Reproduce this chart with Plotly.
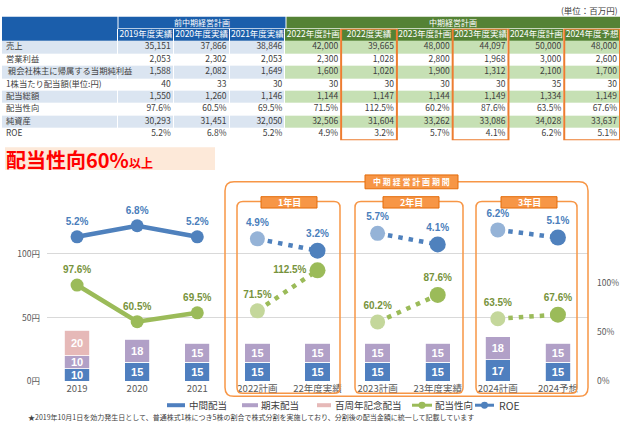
import plotly.graph_objects as go

W, H = 625, 428

# ---------------- table data ----------------
col_headers = ["2019年度実績", "2020年度実績", "2021年度実績", "2022年度計画", "2022度実績",
               "2023年度計画", "2023年度実績", "2024年度計画", "2024年度予想"]
row_labels = ["売上", "営業利益", " 親会社株主に帰属する当期純利益", "1株当たり配当額(単位:円)",
              "配当総額", "配当性向", "純資産", "ROE"]
sales = [35151, 37866, 38846, 42000, 39665, 48000, 44097, 50000, 48000]
op_income = [2053, 2302, 2053, 2300, 1028, 2800, 1968, 3000, 2600]
net_income = [1588, 2082, 1649, 1600, 1020, 1900, 1312, 2100, 1700]
dps = [40, 33, 30, 30, 30, 30, 30, 35, 30]
total_div = [1550, 1260, 1146, 1144, 1147, 1144, 1149, 1334, 1149]
net_assets = [30293, 31451, 32050, 32506, 31604, 33262, 33086, 34028, 33637]

# ---------------- chart data ----------------
categories = ["2019", "2020", "2021", "2022計画", "22年度実績", "2023計画", "23年度実績", "2024計画", "2024予想"]
interim = [10, 15, 15, 15, 15, 15, 15, 17, 15]
year_end = [10, 18, 15, 15, 15, 15, 15, 18, 15]
anniversary = [20, None, None, None, None, None, None, None, None]
payout = [97.6, 60.5, 69.5, 71.5, 112.5, 60.2, 87.6, 63.5, 67.6]
roe = [5.2, 6.8, 5.2, 4.9, 3.2, 5.7, 4.1, 6.2, 5.1]

plan_idx = [3, 5, 7]
actual_idx = [4, 6, 8]

JP = "Noto Sans CJK JP"
NUM = "Liberation Sans"
GRAY = "#595959"
BLUE = "#4f81bd"
BLUE_F = "#95b3d7"
GREEN = "#9bbb59"
GREEN_F = "#c4d79b"
ORANGE = "#f79646"


def px(x):
    return x / W


def py(y):
    return 1 - y / H


fig = go.Figure()

# ---------------- table (heatmap cells + text) ----------------
LABEL_W, COL_W = 116, 55.78
edges = [0, LABEL_W] + [LABEL_W + COL_W * (i + 1) for i in range(9)]

fmt = lambda v: f"{v:,}"
table_rows = [
    [fmt(v) for v in sales],
    [fmt(v) for v in op_income],
    [fmt(v) for v in net_income],
    [str(v) for v in dps],
    [fmt(v) for v in total_div],
    [f"{v:.1f}%" for v in payout],
    [fmt(v) for v in net_assets],
    [f"{v:.1f}%" for v in roe],
]

cell_colors = ["#ffffff", "#dbe5f1", "#c6e0b4", "#1b5eab", "#548235"]
cscale = []
for k, c in enumerate(cell_colors):
    cscale += [[k / 5, c], [(k + 1) / 5, c]]
z = [[3] * 4 + [4] * 6]
for r in range(len(row_labels)):
    z.append([1] * 4 + [2] * 6 if r % 2 == 0 else [0] * 10)

fig.add_trace(go.Heatmap(x=edges, y=list(range(9)), z=z, colorscale=cscale, zmin=-0.5, zmax=4.5,
                         showscale=False, xgap=1, ygap=0, hoverinfo="skip",
                         xaxis="x4", yaxis="y4"))

fig.add_trace(go.Scatter(x=[(edges[c + 1] + edges[c + 2]) / 2 for c in range(9)], y=[0] * 9,
                         text=col_headers, mode="text", textposition="middle center",
                         textfont=dict(family=JP, size=8.5, color="white"),
                         hoverinfo="skip", cliponaxis=False, xaxis="x4", yaxis="y4"))

fig.add_trace(go.Scatter(x=[4] * len(row_labels), y=[r + 1 for r in range(len(row_labels))],
                         text=row_labels, mode="text", textposition="middle right",
                         textfont=dict(family=JP, size=8.3, color="#404040"),
                         hoverinfo="skip", cliponaxis=False, xaxis="x4", yaxis="y4"))

vx, vy, vt = [], [], []
for r, row in enumerate(table_rows):
    for c, v in enumerate(row):
        vx.append(edges[c + 2] - 3)
        vy.append(r + 1)
        vt.append(v)
fig.add_trace(go.Scatter(x=vx, y=vy, text=vt, mode="text", textposition="middle left",
                         textfont=dict(family=JP, size=8.5, color="#404040"),
                         hoverinfo="skip", cliponaxis=False, xaxis="x4", yaxis="y4"))

# ---------------- dividend bars ----------------
for name, vals, color in [("中間配当", interim, "#4f7fbf"),
                          ("期末配当", year_end, "#b1a0c7"),
                          ("百周年記念配当", anniversary, "#e6b9b8")]:
    fig.add_trace(go.Bar(x=categories, y=vals, name=name, width=0.42,
                         marker=dict(color=color, line=dict(color="white", width=0.8)),
                         texttemplate="%{y}", textposition="inside", insidetextanchor="middle",
                         constraintext="none",
                         textfont=dict(family=NUM, size=11, color="white", weight="bold"),
                         hoverinfo="skip", xaxis="x", yaxis="y"))


# ---------------- payout ratio & ROE lines ----------------
def add_series(vals, axis, solid, faded, txt, actual_pos):
    lab = [f"{v:.1f}%" for v in vals]
    tf = dict(family=NUM, size=10, color=txt, weight="bold")
    fig.add_trace(go.Scatter(x=categories[:3], y=vals[:3], mode="lines+markers+text",
                             line=dict(color=solid, width=4.5), marker=dict(size=13, color=solid),
                             text=lab[:3], textposition="top center", textfont=tf,
                             hoverinfo="skip", cliponaxis=False, xaxis="x", yaxis=axis))
    for p, a in zip(plan_idx, actual_idx):
        fig.add_trace(go.Scatter(x=[categories[p], categories[a]], y=[vals[p], vals[a]], mode="lines",
                                 line=dict(color=solid, width=4.5, dash="4.5px,6px"),
                                 hoverinfo="skip", xaxis="x", yaxis=axis))
    fig.add_trace(go.Scatter(x=[categories[i] for i in plan_idx], y=[vals[i] for i in plan_idx],
                             mode="markers+text", marker=dict(size=15, color=faded),
                             text=[lab[i] for i in plan_idx], textposition="top center", textfont=tf,
                             hoverinfo="skip", cliponaxis=False, xaxis="x", yaxis=axis))
    fig.add_trace(go.Scatter(x=[categories[i] for i in actual_idx], y=[vals[i] for i in actual_idx],
                             mode="markers+text", marker=dict(size=16, color=solid),
                             text=[lab[i] for i in actual_idx], textposition=actual_pos, textfont=tf,
                             hoverinfo="skip", cliponaxis=False, xaxis="x", yaxis=axis))


add_series(payout, "y2", GREEN, GREEN_F, "#77933c", ["middle left", "top center", "top center"])
add_series(roe, "y3", BLUE, BLUE_F, "#4a7ebb", "top center")

# ---------------- shapes ----------------
shapes = []


def rect(x0, y0, x1, y1, fill, line=None, lw=0, layer="below"):
    shapes.append(dict(type="rect", xref="paper", yref="paper", x0=px(x0), x1=px(x1), y0=py(y1), y1=py(y0),
                       fillcolor=fill, line=dict(color=line or fill, width=lw), layer=layer))


def rrect(x0, y0, x1, y1, r, color, lw=1.5):
    P = lambda x, y: f"{px(x):.5f},{py(y):.5f}"
    path = (f"M{P(x0 + r, y0)} L{P(x1 - r, y0)} Q{P(x1, y0)} {P(x1, y0 + r)} "
            f"L{P(x1, y1 - r)} Q{P(x1, y1)} {P(x1 - r, y1)} L{P(x0 + r, y1)} "
            f"Q{P(x0, y1)} {P(x0, y1 - r)} L{P(x0, y0 + r)} Q{P(x0, y0)} {P(x0 + r, y0)} Z")
    shapes.append(dict(type="path", xref="paper", yref="paper", path=path,
                       line=dict(color=color, width=lw), layer="above"))


# table top header row
rect(2, 17, 117.5, 29.4, "#1b5eab")
rect(118.5, 17, 285.5, 28.6, "#1b5eab")
rect(286.5, 17, 620, 28.6, "#548235")

# highlighted actual columns
for c in actual_idx:
    shapes.append(dict(type="rect", xref="x4", yref="y4", x0=edges[c + 1], x1=edges[c + 2],
                       y0=-0.5, y1=8.5, line=dict(color="#ed7d31", width=2), layer="above"))

# headline background
rect(5, 149, 215, 172, "#fde9d9")

# plan period boxes
rrect(225, 184, 588, 401, 9, ORANGE)
for x0, x1 in [(237, 340), (355, 463), (476, 577)]:
    rrect(x0, 204, x1, 398, 6, ORANGE)
rect(365, 177, 458, 191, ORANGE, "#e46c0a", 1, layer="above")
for cx in [289, 411, 529]:
    rect(cx - 28, 199, cx + 28, 210.5, ORANGE, "#e46c0a", 1, layer="above")

# custom legend swatches
LEG_Y = 410
for x0, x1, col in [(167, 185, "#4f7fbf"), (242, 258, "#b1a0c7"), (317, 331, "#e6b9b8")]:
    shapes.append(dict(type="line", xref="paper", yref="paper", x0=px(x0), x1=px(x1),
                       y0=py(LEG_Y), y1=py(LEG_Y), line=dict(color=col, width=4)))
for x0, x1, col in [(412, 432, GREEN), (475, 494, BLUE)]:
    shapes.append(dict(type="line", xref="paper", yref="paper", x0=px(x0), x1=px(x1),
                       y0=py(LEG_Y), y1=py(LEG_Y), line=dict(color=col, width=3)))
    cx = (x0 + x1) / 2
    shapes.append(dict(type="circle", xref="paper", yref="paper", x0=px(cx - 3.5), x1=px(cx + 3.5),
                       y0=py(LEG_Y + 3.5), y1=py(LEG_Y - 3.5), fillcolor=col, line=dict(color=col, width=0)))

# ---------------- annotations ----------------
ann = []


def text(x, y, s, size, color="#404040", xanchor="left", bold=False, family=JP):
    ann.append(dict(x=px(x), y=py(y), xref="paper", yref="paper", text=s, showarrow=False,
                    xanchor=xanchor, yanchor="middle",
                    font=dict(family=family, size=size, color=color, weight="bold" if bold else "normal")))


text(620, 10, "(単位：百万円)", 8.5, xanchor="right")
text(202, 23, "前中期経営計画", 8, "white", "center")
text(453, 23, "中期経営計画", 8, "white", "center")
text(4, 161, "配当性向60%<span style='font-size:12px'>以上</span>", 20, "#ff0000", bold=True)
text(411.5, 184, "中 期 経 営 計 画 期 間", 8, "white", "center", bold=True)
for cx, s in zip([289, 411, 529], ["1年目", "2年目", "3年目"]):
    text(cx, 205, s, 9, "white", "center", bold=True)
for x, s, sz in [(187, "中間配当", 9.5), (259, "期末配当", 9.5), (333, "百周年記念配当", 9.5),
                 (433, "配当性向", 9.5), (497, "ROE", 10.5)]:
    text(x, LEG_Y, s, sz)
text(26, 421.5, "★2019年10月1日を効力発生日として、普通株式1株につき5株の割合で株式分割を実施しており、"
                "分割後の配当金額に統一して記載しています", 7)

# ---------------- layout ----------------
Y_ZERO, Y_TOP = 386, 176
YEN_PX, PCT_PX, ROE_PX, ROE_ZERO = 1.29, 1.0, 7.0, 276
tickfont = dict(family=JP, size=8.5, color=GRAY)

fig.update_layout(
    width=W, height=H, autosize=False,
    margin=dict(l=0, r=0, t=0, b=0, pad=0),
    paper_bgcolor="white", plot_bgcolor="rgba(0,0,0,0)",
    showlegend=False, barmode="stack",
    font=dict(family=JP, color="#404040"),
    xaxis=dict(domain=[px(47), px(588)], type="category", categoryorder="array",
               categoryarray=categories, range=[-0.5, 8.5], showgrid=False, zeroline=False,
               showline=False, ticks="", tickfont=dict(family=JP, size=9.5, color=GRAY), anchor="y"),
    yaxis=dict(domain=[py(Y_ZERO), py(Y_TOP)], range=[0, (Y_ZERO - Y_TOP) / YEN_PX],
               tickvals=[0, 50, 100], ticktext=["0円", "50円", "100円"], showgrid=True,
               gridcolor="#d9d9d9", gridwidth=1, zeroline=False, ticks="", tickfont=tickfont,
               ticklabelstandoff=6, anchor="x"),
    yaxis2=dict(overlaying="y", side="right", anchor="x", range=[0, (Y_ZERO - Y_TOP) / PCT_PX],
                tickvals=[0, 50, 100], ticktext=["0%", "50%", "100%"], showgrid=False,
                zeroline=False, ticks="", tickfont=tickfont, ticklabelstandoff=8),
    yaxis3=dict(overlaying="y", anchor="x", visible=False,
                range=[-(Y_ZERO - ROE_ZERO) / ROE_PX, (ROE_ZERO - Y_TOP) / ROE_PX]),
    xaxis4=dict(domain=[px(2), px(620)], range=[0, 618], visible=False, anchor="y4"),
    yaxis4=dict(domain=[py(142), py(29)], range=[8.5, -0.5], visible=False, anchor="x4"),
    shapes=shapes,
    annotations=ann,
)

# the page body has a default margin; remove it so the figure fills the window
fig.write_html("out.html", config={"displayModeBar": False},
               post_script="document.body.style.margin='0';document.body.style.overflow='hidden';")
